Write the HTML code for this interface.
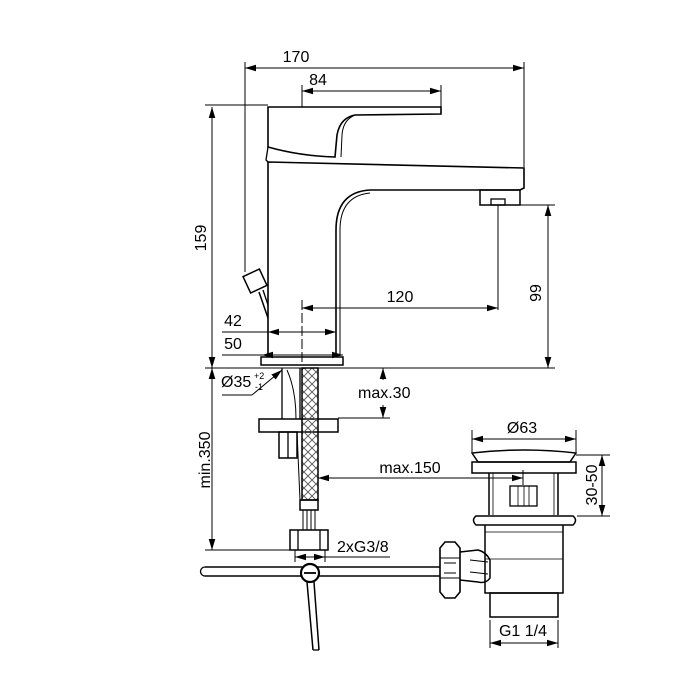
<!DOCTYPE html>
<html><head><style>
body{margin:0;background:#fff}
svg{display:block}
text{font-family:"Liberation Sans",sans-serif;font-size:16px;fill:#000}
</style></head><body>
<svg width="700" height="700" viewBox="0 0 700 700" xmlns="http://www.w3.org/2000/svg">
<defs>
<marker id="a" viewBox="0 0 10 6" refX="10" refY="3" markerWidth="11" markerHeight="7" orient="auto-start-reverse" markerUnits="userSpaceOnUse"><path d="M0,0 L10,3 L0,6z" fill="#000"/></marker>
<pattern id="braid" width="8" height="8" patternUnits="userSpaceOnUse"><path d="M0,0 L8,8 M8,0 L0,8" stroke="#555" stroke-width="0.9"/></pattern>
</defs>
<g fill="none" stroke="#000" stroke-width="1.3">
<g stroke-width="1">
<line x1="245" y1="62" x2="245" y2="272"/>
<line x1="524" y1="62" x2="524" y2="167"/>
<line x1="245" y1="68" x2="524" y2="68" marker-start="url(#a)" marker-end="url(#a)"/>
<line x1="302" y1="85" x2="302" y2="107"/>
<line x1="441" y1="85" x2="441" y2="107"/>
<line x1="302" y1="91" x2="441" y2="91" marker-start="url(#a)" marker-end="url(#a)"/>
<line x1="205" y1="105" x2="268" y2="105"/>
<line x1="212" y1="107" x2="212" y2="368" marker-start="url(#a)" marker-end="url(#a)"/>
<line x1="505" y1="205" x2="555" y2="205"/>
<line x1="548" y1="205" x2="548" y2="368" marker-start="url(#a)" marker-end="url(#a)"/>
<line x1="498" y1="205" x2="498" y2="310"/>
<line x1="302" y1="308" x2="498" y2="308" marker-start="url(#a)" marker-end="url(#a)"/>
<line x1="302" y1="300" x2="302" y2="362" stroke-dasharray="10,3"/>
<line x1="222" y1="332" x2="268" y2="332"/>
<line x1="268" y1="332" x2="336" y2="332" marker-start="url(#a)" marker-end="url(#a)"/>
<line x1="222" y1="355" x2="262" y2="355"/>
<line x1="262" y1="355" x2="343" y2="355" marker-start="url(#a)" marker-end="url(#a)"/>
<line x1="205" y1="368" x2="555" y2="368"/>
<line x1="212" y1="368" x2="212" y2="550" marker-start="url(#a)" marker-end="url(#a)"/>
<line x1="205" y1="550" x2="300" y2="550"/>
<line x1="222" y1="395" x2="252" y2="395"/>
<line x1="252" y1="395" x2="282" y2="370" marker-end="url(#a)"/>
<line x1="383" y1="380" x2="383" y2="368" marker-end="url(#a)"/>
<line x1="383" y1="405" x2="383" y2="418" marker-end="url(#a)"/>
<line x1="338" y1="418" x2="390" y2="418"/>
<line x1="472" y1="430" x2="472" y2="452"/>
<line x1="576" y1="430" x2="576" y2="452"/>
<line x1="472" y1="439" x2="576" y2="439" marker-start="url(#a)" marker-end="url(#a)"/>
<line x1="576" y1="455" x2="610" y2="455"/>
<line x1="577" y1="516" x2="610" y2="516"/>
<line x1="602" y1="455" x2="602" y2="516" marker-start="url(#a)" marker-end="url(#a)"/>
<line x1="318" y1="478" x2="523" y2="478" marker-start="url(#a)" marker-end="url(#a)"/>
<line x1="523" y1="470" x2="523" y2="485"/>
<line x1="295" y1="550" x2="295" y2="562"/>
<line x1="325" y1="550" x2="325" y2="562"/>
<line x1="295" y1="557" x2="325" y2="557" marker-start="url(#a)" marker-end="url(#a)"/>
<line x1="325" y1="557" x2="390" y2="557"/>
<line x1="490" y1="620" x2="490" y2="648"/>
<line x1="558" y1="620" x2="558" y2="648"/>
<line x1="490" y1="643" x2="558" y2="643" marker-start="url(#a)" marker-end="url(#a)"/>
</g>
<path d="M268,107 L441,107 L441,114 L355,115 Q340,118 337,135 L335,157 Q300,156 268,147 Z" stroke-width="1.6"/>
<path d="M355,115 Q343,120 342,135 L341,157" stroke-width="1"/>
<path d="M268,147 L266,160 L268,162"/>
<path d="M268,162 L268,357 M268,162 L524,168 L524,188 L520,190 L370,190 Q336,192 336,230 L336,357" stroke-width="1.6"/>
<path d="M370,193 Q340,196 340,230 L340,355" stroke-width="1"/>
<rect x="480" y="190" width="40" height="15" stroke-width="1.5"/>
<rect x="491" y="199" width="14" height="6"/>
<rect x="261" y="357" width="82" height="8" stroke-width="1.5"/>
<g transform="rotate(-25 255 281)"><rect x="246" y="272" width="18" height="18" stroke-width="1.5"/></g>
<line x1="259" y1="292" x2="268" y2="318" stroke-width="1.5"/>
<line x1="263" y1="290" x2="268" y2="305"/>
<path d="M282,368 L282,419 M300,368 L300,419"/>
<path d="M287,370 Q296,390 296,419" stroke-width="1"/>
<rect x="259" y="419" width="79" height="13" stroke-width="1.5"/>
<rect x="279" y="432" width="18" height="26" stroke-width="1.5"/>
<line x1="288" y1="432" x2="288" y2="458"/>
<path d="M297,432 L300,500" stroke-width="1"/>
<rect x="302" y="368" width="16" height="132" fill="url(#braid)" stroke-width="1.5"/>
<rect x="300" y="500" width="18" height="10" stroke-width="1.5"/>
<path d="M303,510 L303,530 M307,510 L307,530 M311,510 L311,530 M315,510 L315,530" stroke-width="1"/>
<rect x="290" y="530" width="38" height="20" stroke-width="1.5"/>
<path d="M298,530 L298,550 M320,530 L320,550"/>
<path d="M205,567 L440,567 M205,576 L440,576" stroke-width="1.5"/>
<path d="M205,567 A4.5,4.5 0 0 0 205,576"/>
<line x1="307" y1="582" x2="313" y2="650" stroke-width="1.5"/>
<line x1="314" y1="582" x2="319" y2="650" stroke-width="1.5"/>
<line x1="313" y1="650" x2="319" y2="650"/>
<circle cx="310" cy="573" r="9" fill="#fff" stroke-width="2.2"/>
<line x1="304" y1="573" x2="316" y2="573" stroke-width="1.8"/>
<path d="M472,453 Q524,447 576,453 L570,462 L478,462 Z" stroke-width="1.5"/>
<rect x="472" y="462" width="104" height="11" stroke-width="1.5"/>
<path d="M489,473 L489,515 M558,473 L558,515" stroke-width="1.5"/>
<path d="M493,473 L493,515 M554,473 L554,515" stroke-width="0.8"/>
<rect x="510" y="486" width="27" height="20"/>
<path d="M518,486 L518,506 M524,486 L524,506 M529,486 L529,506" stroke-width="0.8"/>
<path d="M476,516 L573,516 Q578,520 573,525 L476,525 Q471,520 476,516 Z" stroke-width="1.5"/>
<path d="M485,525 L485,593 L563,593 L563,525" stroke-width="1.5"/>
<path d="M485,532 L563,532 M485,559 L563,559" stroke-width="0.8"/>
<rect x="490" y="593" width="68" height="24" stroke-width="1.5"/>
<path d="M460,552 L478,550 Q486,552 490,560 L490,578 Q486,584 478,582 L460,580" stroke-width="1.5"/>
<path d="M470,560 L488,562 M470,572 L488,574" stroke-width="1"/>
<path d="M445,542 L455,542 L460,548 L460,592 L455,598 L445,598 L440,592 L440,548 Z" stroke-width="1.6"/>
<path d="M440,558 L460,558 M440,578 L460,578" stroke-width="1"/>
<path d="M444,563 L456,563 M444,573 L456,573" stroke-width="1"/>
</g>
<g>
<text x="296" y="62" text-anchor="middle">170</text>
<text x="318" y="85" text-anchor="middle">84</text>
<text x="400" y="302" text-anchor="middle">120</text>
<text x="233" y="326" text-anchor="middle">42</text>
<text x="233" y="349" text-anchor="middle">50</text>
<text transform="translate(206,238) rotate(-90)" text-anchor="middle">159</text>
<text transform="translate(541,293) rotate(-90)" text-anchor="middle">99</text>
<text x="221" y="387">Ø35</text>
<text x="254" y="379" style="font-size:9px">+2</text>
<text x="255" y="390" style="font-size:9px">-1</text>
<text x="358" y="398">max.30</text>
<text transform="translate(210,460) rotate(-90)" text-anchor="middle">min.350</text>
<text x="522" y="433" text-anchor="middle">Ø63</text>
<text x="410" y="473" text-anchor="middle">max.150</text>
<text transform="translate(597,485) rotate(-90)" text-anchor="middle">30-50</text>
<text x="337" y="552">2xG3/8</text>
<text x="523" y="636" text-anchor="middle">G1 1/4</text>
</g>
</svg>
</body></html>
